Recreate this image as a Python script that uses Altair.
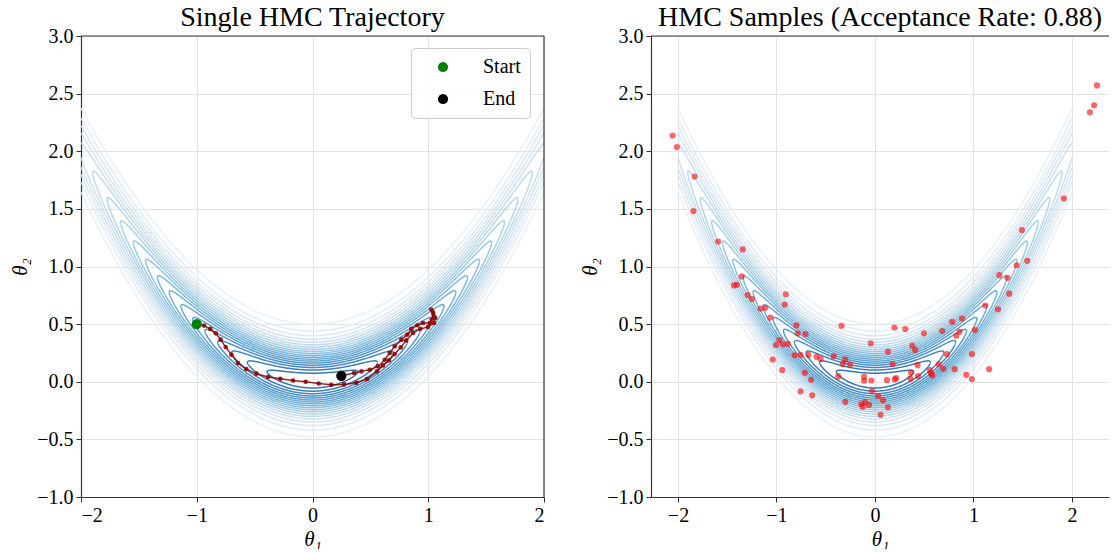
import numpy as np
import pandas as pd
import altair as alt

# ---------------- data ----------------
# banana-shaped target: log p = -t1^2/(2*VAR1) - (t2 - B*t1^2 - OFF)^2/(2*SD2^2)
VAR1 = 1.5
SD2 = 0.2
B = 0.5
OFF = 0.01
X_LIM = 2.0  # contour grid is limited to [-2, 2] in theta_1
CONTOUR_LEVELS = [0.05, 0.10, 0.15, 0.20, 0.25, 0.30, 0.35, 0.40, 0.45, 0.50,
                  0.55, 0.60, 0.65, 0.70, 0.75, 0.80, 0.85, 0.90, 0.95]

traj_t1 = [-1.000, -0.937, -0.883, -0.836, -0.793, -0.750, -0.701, -0.644, -0.572, -0.485,
           -0.384, -0.278, -0.168, -0.059, 0.054, 0.162, 0.272, 0.379, 0.471, 0.557,
           0.609, 0.661, 0.710, 0.762, 0.810, 0.868, 0.931, 0.998, 1.050, 1.061,
           1.041, 1.026, 1.045, 1.030, 1.012, 0.955, 0.906, 0.854, 0.819, 0.767,
           0.710, 0.667, 0.624, 0.566, 0.494, 0.422, 0.359, 0.249]
traj_t2 = [0.500, 0.487, 0.458, 0.420, 0.365, 0.301, 0.235, 0.162, 0.110, 0.070,
           0.041, 0.026, 0.011, 0.000, -0.015, -0.026, -0.023, -0.009, 0.023, 0.090,
           0.142, 0.185, 0.240, 0.298, 0.359, 0.423, 0.458, 0.476, 0.510, 0.554,
           0.603, 0.626, 0.580, 0.540, 0.510, 0.510, 0.490, 0.458, 0.409, 0.365,
           0.307, 0.250, 0.191, 0.133, 0.104, 0.090, 0.076, 0.052]

endpoint_labels = ["Start", "End"]
endpoint_colors = ["#008000", "#000000"]

samp_t1 = [-2.054, -2.011, -1.832, -1.843, -1.592, -1.342, -1.352, 2.254, 2.225, 2.182,
           1.918, 1.492, 1.546, 1.438, 1.263, 1.345,
           -1.431, -1.402, -1.292, -1.249, -0.905, -0.916, -1.163, -1.113, -1.063, -0.798,
           -0.784, -0.705, -0.970, -1.005, -0.934, -0.884, -1.038, -0.941, -0.816, -0.755,
           -0.676, -0.594, -0.551, -0.712, -0.648, -0.755, -0.637, -0.419, -0.340, -0.301,
           -0.326, -0.254, -0.372, -0.301, -0.111, -0.111, -0.036, -0.043, -0.029, -0.140,
           -0.125, -0.061, -0.100, 0.032, 0.082, 0.132, 0.057, 0.132, 0.179, 0.197,
           0.308, 0.122, 0.200, 0.215, 0.365, 0.361, 0.379, 0.408, 0.433, 0.437,
           0.497, 0.558, 0.569, 0.583, 0.648, 0.694, 0.683, 0.730, 0.784, 0.809,
           0.826, 0.859, 0.884, 1.016, 0.984, 0.927, 0.984, 1.159, 1.120, 1.249, 1.363]
samp_t2 = [2.137, 2.036, 1.780, 1.481, 1.216, 1.150, 0.914, 2.571, 2.399, 2.338,
           1.590, 1.317, 1.049, 1.011, 0.925, 0.902,
           0.836, 0.842, 0.753, 0.718, 0.759, 0.670, 0.635, 0.641, 0.557, 0.489,
           0.420, 0.414, 0.362, 0.319, 0.325, 0.328, 0.193, 0.101, 0.230, 0.233,
           0.233, 0.216, 0.198, 0.078, 0.017, -0.083, -0.118, 0.221, 0.486, 0.193,
           0.155, 0.149, 0.046, -0.175, 0.043, 0.009, 0.011, 0.333, -0.080, -0.195,
           -0.216, -0.201, -0.175, -0.124, -0.161, -0.221, -0.287, 0.261, 0.152, 0.471,
           0.457, 0.014, 0.020, 0.032, 0.080, 0.026, 0.313, 0.276, 0.144, 0.049,
           0.420, 0.101, 0.072, 0.055, 0.152, 0.112, 0.440, 0.239, 0.520, 0.109,
           0.399, 0.434, 0.549, 0.448, 0.241, 0.060, 0.023, 0.109, 0.661, 0.629, 0.764]

X_TICKS = [-2, -1, 0, 1, 2]
Y_TICKS = [-1.0, -0.5, 0.0, 0.5, 1.0, 1.5, 2.0, 2.5, 3.0]
Y_DOMAIN = [-1.0, 3.0]
LEFT_X_DOMAIN = [-2.0, 2.0]
RIGHT_X_DOMAIN = [-2.274, 2.376]

BLUES = ["#f7fbff", "#deebf7", "#c6dbef", "#9ecae1", "#6baed6",
         "#4292c6", "#2171b5", "#08519c", "#08306b"]

FONT = "Liberation Serif"
SPINE = "#333333"

# ---------------- contour lines of the target density ----------------
def hex_to_rgb(h):
    return np.array([int(h[i:i + 2], 16) for i in (1, 3, 5)], dtype=float)


def blues(t):
    pos = t * (len(BLUES) - 1)
    i = min(int(np.floor(pos)), len(BLUES) - 2)
    f = pos - i
    c = hex_to_rgb(BLUES[i]) * (1 - f) + hex_to_rgb(BLUES[i + 1]) * f
    return "#%02x%02x%02x" % tuple(int(round(v)) for v in c)


rows = []
lo, hi = CONTOUR_LEVELS[0], CONTOUR_LEVELS[-1]
for j, lvl in enumerate(CONTOUR_LEVELS):
    L = -np.log(lvl)
    r1 = np.sqrt(2 * VAR1 * L)
    r2 = SD2 * np.sqrt(2 * L)
    if r1 <= X_LIM:
        pieces = [np.linspace(0, 2 * np.pi, 500)]
    else:
        t0 = np.arccos(X_LIM / r1)
        pieces = [np.linspace(t0, np.pi - t0, 400),
                  np.linspace(np.pi + t0, 2 * np.pi - t0, 400)]
    col = blues(0.10 + 0.72 * (lvl - lo) / (hi - lo))
    for k, tt in enumerate(pieces):
        xs = r1 * np.cos(tt)
        ys = B * xs ** 2 + OFF + r2 * np.sin(tt)
        for i, (xv, yv) in enumerate(zip(xs, ys)):
            rows.append({"x": float(xv), "y": float(yv), "seg": f"{j}-{k}",
                         "i": i, "col": col})
contour_df = pd.DataFrame(rows)

traj_df = pd.DataFrame({"x": traj_t1, "y": traj_t2, "i": range(len(traj_t1))})
ends_df = pd.DataFrame({"x": [traj_t1[0], traj_t1[-1]], "y": [traj_t2[0], traj_t2[-1]],
                        "label": endpoint_labels})
samp_df = pd.DataFrame({"x": samp_t1, "y": samp_t2})
top_df = pd.DataFrame({"y": [Y_DOMAIN[1]]})
right_edge_df = pd.DataFrame({"x": [LEFT_X_DOMAIN[1]]})


def axes(xdom):
    xe = alt.X("x:Q", scale=alt.Scale(domain=xdom, nice=False, zero=False),
               axis=alt.Axis(values=X_TICKS, format="d", title="θ₁", titlePadding=3))
    ye = alt.Y("y:Q", scale=alt.Scale(domain=Y_DOMAIN, nice=False, zero=False),
               axis=alt.Axis(values=Y_TICKS, format=".1f", title="θ₂", titlePadding=6))
    return xe, ye


def contour_layer(xdom):
    xe, ye = axes(xdom)
    return alt.Chart(contour_df).mark_line(strokeWidth=1.5, opacity=0.85, clip=True).encode(
        x=xe, y=ye, detail="seg:N", order="i:Q",
        stroke=alt.Stroke("col:N", scale=None))


def top_spine():
    return alt.Chart(top_df).mark_rule(color=SPINE, strokeWidth=1.2).encode(y="y:Q")


# ---------------- left panel ----------------
xl, yl = axes(LEFT_X_DOMAIN)
right_spine = alt.Chart(right_edge_df).mark_rule(color=SPINE, strokeWidth=1.2).encode(x="x:Q")
traj_line = alt.Chart(traj_df).mark_line(color="#8b0000", strokeWidth=1.5, opacity=0.85).encode(
    x=xl, y=yl, order="i:Q")
traj_pts = alt.Chart(traj_df).mark_circle(color="#8b0000", size=22, opacity=0.85).encode(
    x=xl, y=yl)
ends = alt.Chart(ends_df).mark_circle(size=105, opacity=1).encode(
    x=xl, y=yl,
    color=alt.Color("label:N",
                    scale=alt.Scale(domain=endpoint_labels, range=endpoint_colors),
                    legend=alt.Legend(title=None, orient="none", legendX=330, legendY=12,
                                      labelFont=FONT, labelFontSize=20, symbolSize=105,
                                      symbolType="circle", strokeColor="#cccccc",
                                      fillColor="rgba(255,255,255,0.85)", cornerRadius=4,
                                      padding=9, rowPadding=12, labelOffset=30,
                                      symbolOffset=13)))
left = alt.layer(contour_layer(LEFT_X_DOMAIN), top_spine(), right_spine,
                 traj_line, traj_pts, ends).properties(
    width=463, height=461,
    title=alt.Title("Single HMC Trajectory", font=FONT, fontSize=28, fontWeight="normal",
                    offset=-6))

# ---------------- right panel ----------------
xr, yr = axes(RIGHT_X_DOMAIN)
samples = alt.Chart(samp_df).mark_circle(color="#ff0000", size=38, opacity=0.6).encode(
    x=xr, y=yr)
right = alt.layer(contour_layer(RIGHT_X_DOMAIN), top_spine(), samples).properties(
    width=458, height=461,
    title=alt.Title("HMC Samples (Acceptance Rate: 0.88)", font=FONT, fontSize=28,
                    fontWeight="normal", offset=-6))

chart = alt.hconcat(left, right, spacing=34).resolve_scale(
    color="independent").resolve_legend(color="independent").properties(
    padding={"left": 9, "top": 4, "right": 0, "bottom": 0}
).configure_view(stroke=None).configure_axis(
    labelFont=FONT, labelFontSize=20, labelColor="#000000",
    titleFont=FONT, titleFontSize=21, titleFontStyle="italic", titleFontWeight="normal",
    titleColor="#000000",
    gridColor="#e3e3e3", gridWidth=1, domainColor=SPINE, domainWidth=1.2,
    tickColor=SPINE, tickSize=5, labelPadding=3
).configure_title(anchor="middle", color="#000000")

chart.save("out.html", embed_options={"renderer": "svg", "actions": False})
